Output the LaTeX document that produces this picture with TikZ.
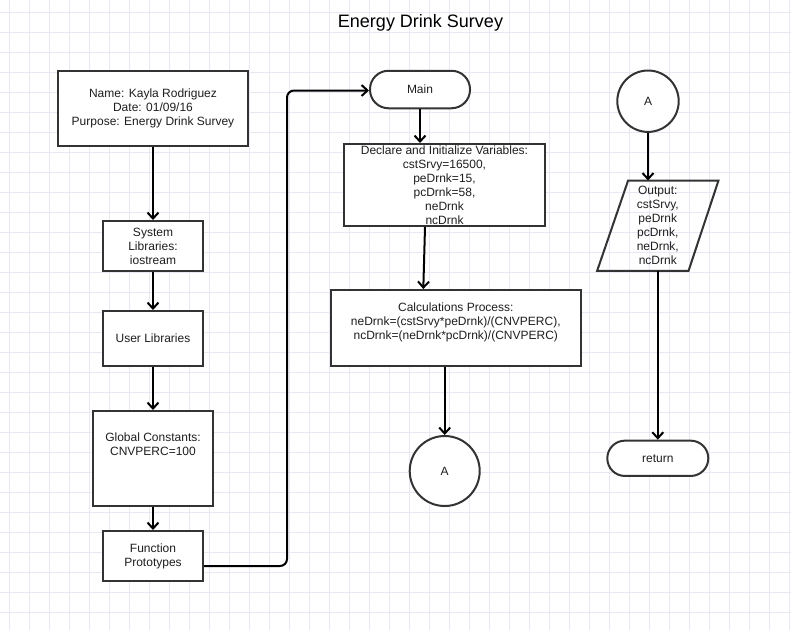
\documentclass[tikz,border=0pt]{standalone}
\usepackage{fontspec}
\setmainfont{Liberation Sans}
\usetikzlibrary{arrows.meta}
\definecolor{boxc}{HTML}{333333}
\definecolor{txtc}{HTML}{1E1E1E}
\definecolor{gridc}{HTML}{E8E8F3}
\begin{document}
\begin{tikzpicture}[x=1pt,y=-1pt,
  txt/.style={text=txtc, align=center, font=\fontsize{12}{14}\selectfont, inner sep=0pt},
  box/.style={txt, draw=boxc, line width=2pt, fill=white},
  pill/.style={box},
  circ/.style={box, circle},
  arr/.style={-{Straight Barb[length=6pt,width=11pt]}, line width=2pt, black},
  line/.style={line width=2pt, black}]
\fill[white] (0,0) rectangle (791,630);
\useasboundingbox (0,0) rectangle (791,630);
\foreach \x in {9,29,...,789} \draw[gridc, line width=0.7pt] (\x,0) -- (\x,630);
\foreach \y in {12,32,...,612} \draw[gridc, line width=0.7pt] (0,\y) -- (791,\y);

\node[font=\fontsize{18}{20}\selectfont, text=black, anchor=base] (title) at (420.5,27.3) {Energy Drink Survey};

% left column
\node[box, minimum width=190, minimum height=75] (name) at (153,108.5) {Name: Kayla Rodriguez\\Date: 01/09/16\\Purpose: Energy Drink Survey};
\node[box, minimum width=100, minimum height=50] (sys) at (153,246) {System\\Libraries:\\iostream};
\node[box, minimum width=100, minimum height=55] (user) at (153,338.5) {User Libraries};
\node[box, minimum width=120, minimum height=95,
  label={[txt, yshift=14pt]center:{Global Constants:\\CNVPERC=100}}] (gc) at (153,458.5) {};
\node[box, minimum width=100, minimum height=50] (fp) at (153,556) {Function\\Prototypes};

% middle column
\node[pill, rounded corners=18.5pt, minimum width=100, minimum height=37.5] (main) at (420,89.5) {Main};
\node[box, minimum width=201, minimum height=82] (decl) at (444.5,185) {Declare and Initialize Variables:\\cstSrvy=16500,\\peDrnk=15,\\pcDrnk=58,\\neDrnk\\ncDrnk};
\node[box, minimum width=250, minimum height=76,
  label={[txt, yshift=6pt]center:{Calculations Process:\\neDrnk=(cstSrvy*peDrnk)/(CNVPERC),\\ncDrnk=(neDrnk*pcDrnk)/(CNVPERC)}}] (calc) at (455.8,328) {};
\node[circ, minimum size=70] (a1) at (444.7,471) {A};

% right column
\node[circ, minimum size=61.4] (a2) at (648,101.2) {A};
\node[txt, minimum width=121, minimum height=90] (out) at (657.8,225.7) {Output:\\cstSrvy,\\peDrnk\\pcDrnk,\\neDrnk,\\ncDrnk};
\draw[boxc, line width=2pt, line join=miter] ([xshift=31pt]out.north west) -- (out.north east) -- ([xshift=-30pt]out.south east) -- (out.south west) -- cycle;
\node[pill, rounded corners=17.6pt, minimum width=101, minimum height=35.3] (ret) at (657.8,458.3) {return};

% connectors
\draw[arr] (name.south) -- (sys.north);
\draw[arr] (sys.south) -- (user.north);
\draw[arr] (user.south) -- (gc.north);
\draw[arr] (gc.south) -- (fp.north);
\draw[arr, rounded corners=7pt] ([yshift=-10pt]fp.east) -| ([xshift=-82pt,yshift=-1pt]main.west) -- ([yshift=-1pt]main.west);
\draw[arr] (main.south) -- (main.south |- decl.north);
\draw[arr] ([xshift=-19.5pt]decl.south) -- ([xshift=-32.5pt]calc.north);
\draw[arr] (a1 |- calc.south) -- (a1.north);
\draw[arr] (a2.south) -- (a2.south |- out.north);
\draw[arr] (ret |- out.south) -- (ret.north);
\end{tikzpicture}
\end{document}
